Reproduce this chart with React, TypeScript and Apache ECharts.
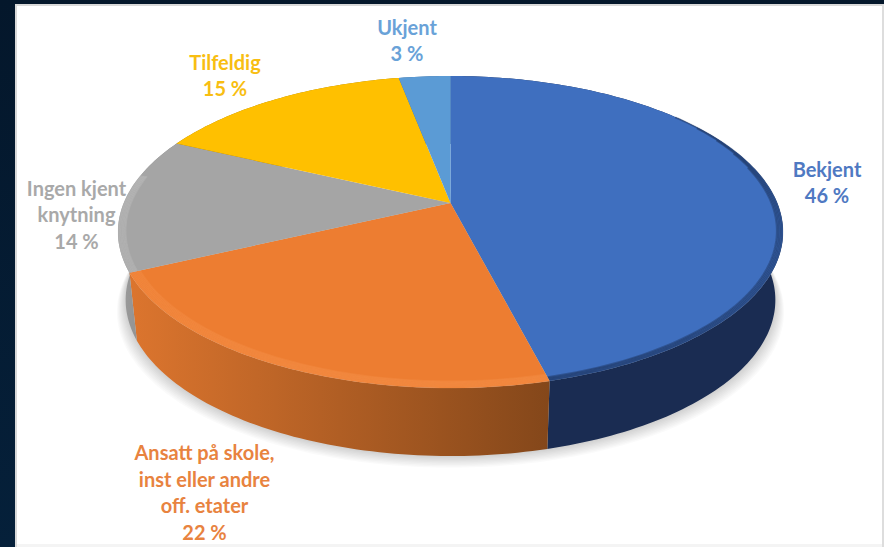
import React, { useEffect, useRef } from "react";
import * as echarts from "echarts";

const categories = ["Bekjent", "Ansatt på skole,\ninst eller andre\noff. etater", "Ingen kjent\nknytning", "Tilfeldig", "Ukjent"];
const values = [46, 22, 14, 15, 3];
const faceColors = ["#3F6FBF", "#ED7D31", "#A5A5A5", "#FFC000", "#5B9BD5"];
const labelColors = ["#4F79C2", "#E8833F", "#A9A9A9", "#F8BE12", "#69A2D8"];
const wallLeft = ["#1A2C52", "#DC752E", "#9C9C9C", "#A07800", "#3A6A98"];
const wallRight = ["#1A2C52", "#84471A", "#7E7E7E", "#A07800", "#3A6A98"];
const rimColors = ["#1A2C52", "#FA9A58", "#C2C2C2", "#FFC000", "#5B9BD5"];
const rimLayers = [5, 8, 6, 0, 0];
const rimOpacity = [0.4, 0.22, 0.3, 0, 0];
const labelCenters: number[][] = [[827, 182], [204.5, 492], [76.5, 214], [225, 75], [407, 40]];

const CX = 450.5, CY = 203, K = 0.186, R = 326.7, Q = 150.6, DEPTH = 68, BOTTOM_SCALE = 0.977;
const RIM_START = Math.PI * 0.28, RIM_END = Math.PI * 1.56;
const SHADOW_LAYERS = 9;
const total = values.reduce((a, b) => a + b, 0);

function top(theta: number, s = 1) {
  const u = Math.sin(theta) * s, v = -Math.cos(theta) * s, w = 1 - K * v;
  return [CX + (R * u) / w, CY + (Q * v) / w];
}
function bottom(theta: number, shift = 0, grow = 1) {
  const u = Math.sin(theta), v = -Math.cos(theta), w = 1 - K * v;
  return [CX + (R * BOTTOM_SCALE * grow * u) / w, CY + DEPTH + shift + (Q * v) / w];
}
function arc(fn: (t: number) => number[], a: number, b: number) {
  const n = Math.max(2, Math.ceil(Math.abs(b - a) / 0.02));
  const pts: number[][] = [];
  for (let i = 0; i <= n; i++) pts.push(fn(a + ((b - a) * i) / n));
  return pts;
}
function sliceAngles(i: number) {
  let c = 0;
  for (let k = 0; k < i; k++) c += values[k];
  return [(c / total) * Math.PI * 2, ((c + values[i]) / total) * Math.PI * 2];
}

const renderWall = (params: any) => {
  const i = params.dataIndex;
  const [a, b] = sliceAngles(i);
  const pts = arc((t) => top(t), a, b).concat(arc((t) => bottom(t), b, a));
  const xs = pts.map((p) => p[0]);
  return {
    type: "polygon",
    shape: { points: pts },
    style: {
      fill: new echarts.graphic.LinearGradient(Math.min(...xs), 0, Math.max(...xs), 0, [
        { offset: 0, color: wallLeft[i] },
        { offset: 1, color: wallRight[i] },
      ], true),
    },
  };
};

const renderFace = (params: any) => {
  const i = params.dataIndex;
  const [a, b] = sliceAngles(i);
  const pts = [[CX, CY]].concat(arc((t) => top(t), a, b));
  const children: any[] = [{ type: "polygon", shape: { points: pts }, style: { fill: faceColors[i] } }];
  for (let j = 0; j < rimLayers[i]; j++) {
    // concentric thin strokes build a soft bevel along the front rim
    const s = Math.max(a, RIM_START + j * 0.035 * Math.PI), e = Math.min(b, RIM_END);
    if (s >= e) continue;
    const scale = 0.998 - j * 0.004;
    children.push({
      type: "polyline",
      shape: { points: arc((t) => top(t, scale), s, e) },
      style: { fill: "none", stroke: rimColors[i], lineWidth: 1.8, opacity: rimOpacity[i] },
    });
  }
  return { type: "group", children };
};

const renderLabel = (params: any, api: any) => {
  const i = params.dataIndex;
  return {
    type: "text",
    x: labelCenters[i][0],
    y: labelCenters[i][1],
    style: {
      text: `${categories[i]}\n${api.value(0)} %`,
      fill: labelColors[i],
      font: "bold 20px Lato",
      lineHeight: 26.5,
      align: "center",
      verticalAlign: "middle",
    },
  };
};

const renderShadow = () => {
  const children: any[] = [];
  for (let j = SHADOW_LAYERS; j >= 1; j--) {
    children.push({
      type: "polygon",
      shape: { points: arc((t) => bottom(t, j * 1.3, 1 + j * 0.003), Math.PI * 0.25, Math.PI * 1.65) },
      style: { fill: "#000000", opacity: 0.018 },
    });
  }
  return { type: "group", children };
};

export default function App() {
  const ref = useRef<HTMLDivElement>(null);
  useEffect(() => {
    document.body.style.margin = "0";
    const chart = echarts.init(ref.current!, null, { renderer: "svg" });
    const data = values.map((v) => [v]);
    chart.setOption({
      animation: false,
      backgroundColor: new echarts.graphic.LinearGradient(0, 0, 0, 1, [
        { offset: 0, color: "#04172B" },
        { offset: 1, color: "#05203A" },
      ]),
      graphic: [
        { type: "rect", z: -2, shape: { x: 16, y: 5, width: 880, height: 560 }, style: { fill: "#FFFFFF", stroke: "#D9D9D9", lineWidth: 2 } },
        { type: "rect", z: -1, shape: { x: 17, y: 544, width: 867, height: 3 }, style: { fill: "#F4F4F4" } },
        { type: "rect", z: -1, shape: { x: 882, y: 5, width: 2, height: 542 }, style: { fill: "#DDDDDD" } },
      ],
      series: [
        { type: "custom", coordinateSystem: "none", silent: true, z: 1, data: [[0]], renderItem: renderShadow },
        { type: "custom", coordinateSystem: "none", silent: true, z: 2, data, renderItem: renderWall },
        { type: "custom", coordinateSystem: "none", silent: true, z: 3, data, renderItem: renderFace },
        { type: "custom", coordinateSystem: "none", silent: true, z: 4, data, renderItem: renderLabel },
      ],
    });
    return () => chart.dispose();
  }, []);
  return <div ref={ref} style={{ width: 884, height: 547 }} />;
}
